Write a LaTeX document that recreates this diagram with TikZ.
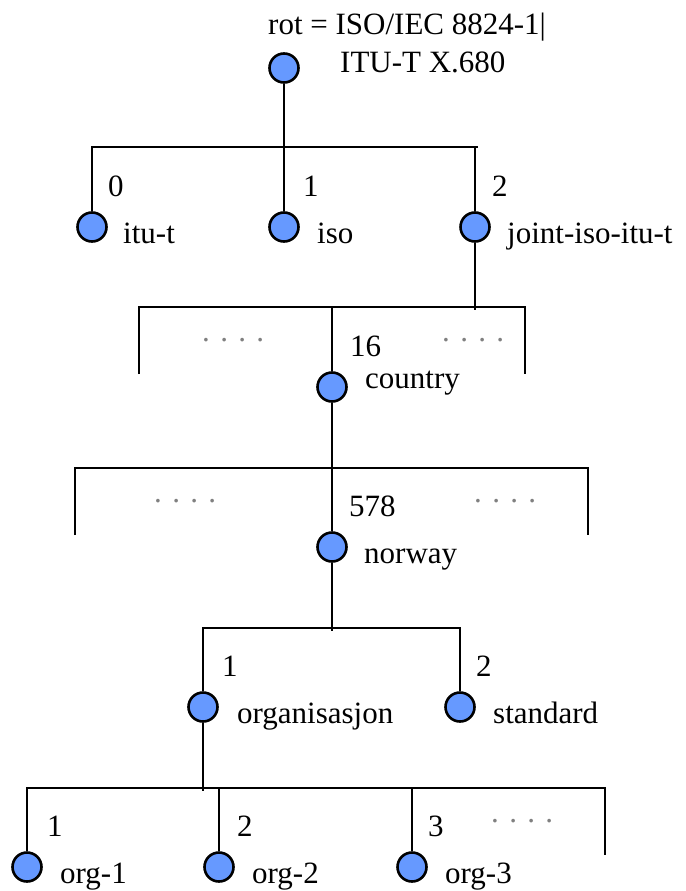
\documentclass[tikz,border=0pt]{standalone}
\usepackage{fontspec}
\setmainfont{Liberation Serif}
\usetikzlibrary{positioning}

\definecolor{oidblue}{RGB}{102,153,255}

\tikzset{
  oid/.style={circle,draw=black,fill=oidblue,line width=2.6pt,minimum size=29pt,inner sep=0pt},
  lbl/.style={anchor=base west,inner sep=0pt,font=\fontsize{31}{36}\selectfont},
  more/.style={lbl,text=gray}
}

\begin{document}
\begin{tikzpicture}[x=1pt,y=-1pt,tree/.style={line width=2.6pt}]
  \useasboundingbox (0,0) rectangle (685,891);

  % root
  \node[oid] (rot) at (284,68) {};
  \node[lbl] (rotname) at (268,35) {rot = ISO/IEC 8824-1|};
  \node[lbl] (rotname2) at (340,73) {ITU-T X.680};

  % level 1
  \node[oid] (itut)  at (92,227)  {};
  \node[oid] (iso)   at (284,227) {};
  \node[oid] (joint) at (475,227) {};
  \node[lbl] (n0) at (108,196) {0};
  \node[lbl] (n1) at (303,196) {1};
  \node[lbl] (n2) at (492,196) {2};
  \node[lbl] (itutname)  at (123,243) {itu-t};
  \node[lbl] (isoname)   at (317,243) {iso};
  \node[lbl] (jointname) at (507,243) {joint-iso-itu-t};
  \coordinate (b1r) at (478,147);
  \draw[tree] (rot) -- (iso);
  \draw[tree] (itut) |- (b1r);
  \draw[tree] (joint) -- (joint |- b1r);

  % level 2
  \node[oid] (country) at (332,387) {};
  \node[lbl] (n16) at (350,356) {16};
  \node[lbl] (countryname) at (365,388) {country};
  \node[more] (dots2l) at (202,341) {. . . .};
  \node[more] (dots2r) at (442,341) {. . . .};
  \coordinate (b2l) at (139,374);
  \coordinate (b2r) at (525,307);
  \coordinate (j2) at (475,310);
  \draw[tree] (joint) -- (j2);
  \draw[tree] (b2l) |- (b2r) -- ++(0,67);
  \draw[tree] (country) -- (country |- b2r);

  % level 3
  \node[oid] (norway) at (332,547) {};
  \node[lbl] (n578) at (349,516) {578};
  \node[lbl] (norwayname) at (364,563) {norway};
  \node[more] (dots3l) at (154,502) {. . . .};
  \node[more] (dots3r) at (474,502) {. . . .};
  \coordinate (b3l) at (75,535);
  \coordinate (b3r) at (588,468);
  \draw[tree] (country) -- (norway);
  \draw[tree] (b3l) |- (b3r) -- ++(0,67);

  % level 4
  \node[oid] (org) at (203,707) {};
  \node[oid] (std) at (460,707) {};
  \node[lbl] (n4a) at (222,676) {1};
  \node[lbl] (n4b) at (476,676) {2};
  \node[lbl] (orgname) at (237,723) {organisasjon};
  \node[lbl] (stdname) at (493,723) {standard};
  \coordinate (b4r) at (460,628);
  \coordinate (nw4) at (332,631);
  \draw[tree] (norway) -- (nw4);
  \draw[tree] (org) |- (b4r) -- (std);

  % level 5
  \node[oid] (org1) at (27,867)  {};
  \node[oid] (org2) at (219,867) {};
  \node[oid] (org3) at (412,867) {};
  \node[lbl] (n5a) at (47,836)  {1};
  \node[lbl] (n5b) at (237,836) {2};
  \node[lbl] (n5c) at (428,836) {3};
  \node[lbl] (org1name) at (60,883)  {org-1};
  \node[lbl] (org2name) at (252,883) {org-2};
  \node[lbl] (org3name) at (445,883) {org-3};
  \node[more] (dots5) at (491,822) {. . . .};
  \coordinate (b5r) at (605,788);
  \coordinate (o5) at (203,791);
  \draw[tree] (org) -- (o5);
  \draw[tree] (org1) |- (b5r) -- ++(0,67);
  \draw[tree] (org2) -- (org2 |- b5r);
  \draw[tree] (org3) -- (org3 |- b5r);
\end{tikzpicture}
\end{document}
